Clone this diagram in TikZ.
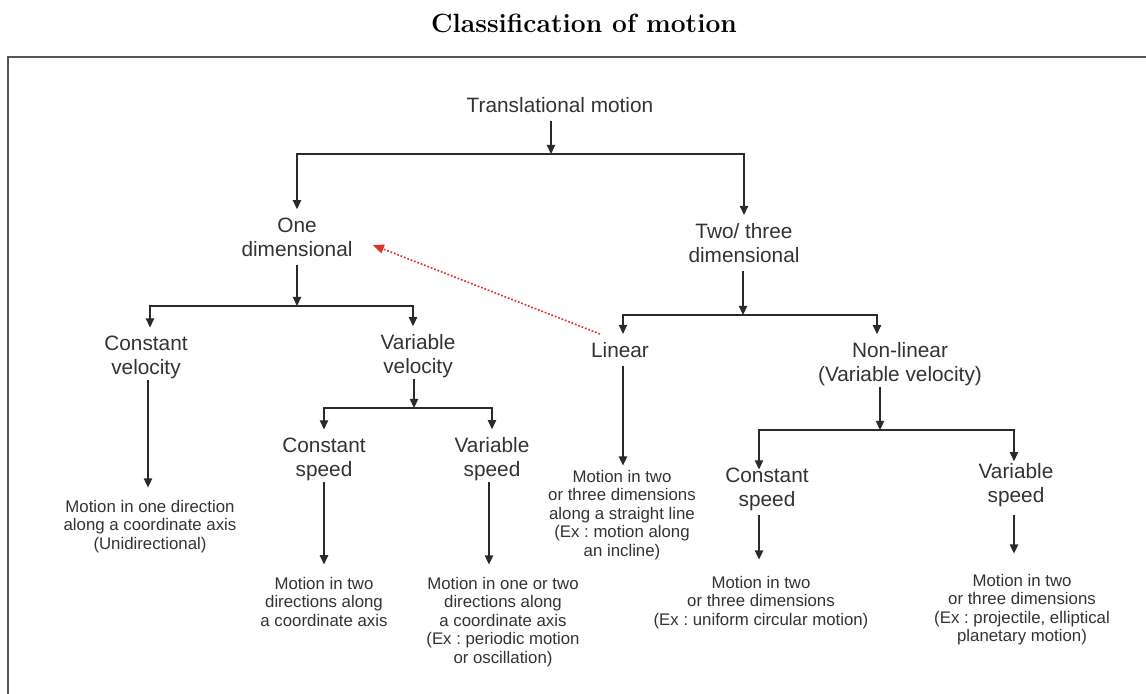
\documentclass[tikz,border=0pt]{standalone}
\usepackage{fontspec}
\newfontfamily\arialfont{Liberation Sans}
\usetikzlibrary{arrows.meta,calc}
\definecolor{ink}{HTML}{2A2A2A}
\definecolor{txt}{HTML}{333333}
\definecolor{framecol}{HTML}{555555}
\definecolor{redarr}{HTML}{E0312B}
\frenchspacing
\tikzset{
  big/.style={font=\arialfont\frenchspacing\fontsize{10.4}{12}\selectfont, text=txt, align=center, inner xsep=2pt, inner ysep=4pt},
  small/.style={font=\arialfont\frenchspacing\fontsize{8.4}{9.3}\selectfont, text=txt, align=center, inner xsep=2pt, inner ysep=6pt},
  arr/.style={draw=ink, line width=0.65pt, -{Triangle[width=4.2pt,length=4.6pt]}},
  hint/.style={draw=redarr, line width=0.8pt, dash pattern=on 0.9pt off 0.9pt, -{Triangle[width=4.5pt,length=5.5pt]}},
  titlefont/.style={font=\bfseries\fontsize{13.2}{16}\selectfont}
}
\begin{document}
\begin{tikzpicture}[x=0.5pt,y=-0.5pt]
\useasboundingbox (0,0) rectangle (1146,694);
\draw[draw=framecol, line width=0.8pt] (8,700) -- (8,57) -- (1150,57);
\node[titlefont, anchor=base] (title) at (584,33) {Classification of motion};

% main nodes
\node[big] (tm) at (560,105) {Translational motion};
\node[big] (od) at (297,237) {One\\dimensional};
\node[big] (ttd) at (744,243) {Two/ three\\dimensional};
\node[big] (cv) at (146,357.3) {Constant\\velocity};
\node[big] (vv) at (418,356.3) {Variable\\velocity};
\node[big] (csl) at (324,459.3) {Constant\\speed};
\node[big] (vsl) at (492,459.3) {Variable\\speed};
\node[big] (lin) at (620,350) {Linear};
\node[big] (nl) at (900,364.3) {Non-linear\\(Variable velocity)};
\node[big] (csr) at (767,489.3) {Constant\\speed};
\node[big] (vsr) at (1016,485.3) {Variable\\speed};

% description nodes
\node[small] (cvb) at (150,526.4) {Motion in one direction\\along a coordinate axis\\(Unidirectional)};
\node[small] (cslb) at (324,601.6) {Motion in two\\directions along\\a coordinate axis};
\node[small] (vslb) at (503,622) {Motion in one or two\\directions along\\a coordinate axis\\(Ex : periodic motion\\or oscillation)};
\node[small] (linb) at (622,515) {Motion in two\\or three dimensions\\along a straight line\\(Ex : motion along\\an incline)};
\node[small] (csrb) at (761,602.4) {Motion in two\\or three dimensions\\(Ex : uniform circular motion)};
\node[small] (vsrb) at (1022,609.7) {Motion in two\\or three dimensions\\(Ex : projectile, elliptical\\planetary motion)};

% level 1
\coordinate (j1) at (551,154);
\draw[arr] (tm.south -| j1) -- (j1);
\draw[arr] (j1) -| (od.north);
\draw[arr] (j1) -| (ttd.north);

% one dimensional branch
\coordinate (j2) at (297,306);
\draw[arr] (od.south) -- (j2);
\draw[arr] (j2) -| ($(cv.north)+(4,0)$);
\draw[arr] (j2) -| ($(vv.north)+(-5,0)$);
\coordinate (cvd) at ($(cv.south)+(2,0)$);
\draw[arr, shorten <=-3.5pt] (cvd) -- (cvd |- cvb.north);
\coordinate (j3) at (414,408);
\draw[arr, shorten <=-3.5pt] (vv.south -| j3) -- (j3);
\draw[arr] (j3) -| (csl.north);
\draw[arr] (j3) -| (vsl.north);
\draw[arr, shorten <=-3.5pt] (csl.south) -- (csl.south |- cslb.north);
\coordinate (vsld) at ($(vsl.south)+(-3,0)$);
\draw[arr, shorten <=-3.5pt] (vsld) -- (vsld |- vslb.north);

% two / three dimensional branch
\coordinate (j4) at (743,315);
\draw[arr] (ttd.south -| j4) -- (j4);
\draw[arr] (j4) -| ($(lin.north)+(3,0)$);
\draw[arr] (j4) -| ($(nl.north)+(-23,0)$);
\coordinate (lind) at ($(lin.south)+(3,0)$);
\draw[arr, shorten >=-4pt] (lind) -- (lind |- linb.north);
\coordinate (j5) at (880,430);
\draw[arr, shorten <=-3.5pt] (nl.south -| j5) -- (j5);
\draw[arr, shorten >=-5pt] (j5) -| ($(csr.north)+(-8,0)$);
\draw[arr, shorten >=-3pt] (j5) -| ($(vsr.north)+(-2,0)$);
\coordinate (csrd) at ($(csr.south)+(-8,0)$);
\draw[arr, shorten <=-2pt, shorten >=2pt] (csrd) -- (csrd |- csrb.north);
\coordinate (vsrd) at ($(vsr.south)+(-2,0)$);
\draw[arr, shorten >=4pt] (vsrd) -- (vsrd |- vsrb.north);

% red dotted hint
\draw[hint] ($(lin.north)+(-20,0)$) -- ($(od.east)+(16,8)$);
\end{tikzpicture}
\end{document}
